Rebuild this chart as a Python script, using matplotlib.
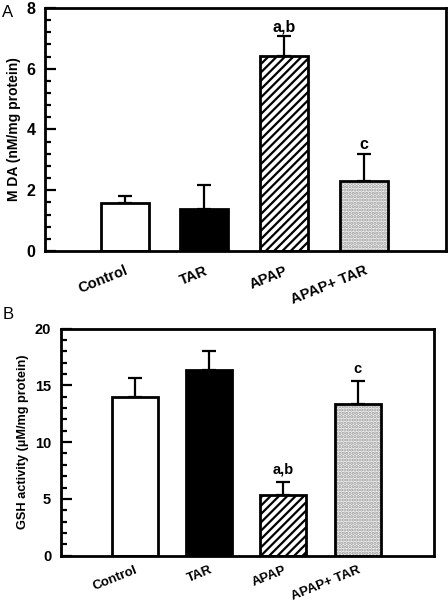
import numpy as np
import matplotlib.pyplot as plt
from matplotlib.ticker import MultipleLocator

plt.rcParams["font.family"] = ["Liberation Sans", "DejaVu Sans"]
plt.rcParams["hatch.linewidth"] = 1.6

groups = ["Control", "TAR", "APAP", "APAP+ TAR"]

# panel A: MDA
mda_mean = [1.58, 1.38, 6.42, 2.30]
mda_sem = [0.23, 0.79, 0.66, 0.89]
mda_marks = {2: "a,b", 3: "c"}

# panel B: GSH
gsh_mean = [13.97, 16.38, 5.31, 13.39]
gsh_sem = [1.70, 1.63, 1.20, 1.96]
gsh_marks = {2: "a,b", 3: "c"}

faces = ["white", "black", "white", "#f2f2f2"]
hatches = [None, None, "////", "....."]
hatch_cols = [None, None, "black", "#9a9a9a"]


def draw_panel(ax, means, sems, marks, width, ymax, major, minor, ylabel,
               tick_fs, lab_fs, ylab_fs, mark_off, xpad):
    x = np.arange(len(means))
    ax.errorbar(x, means, yerr=[np.zeros(len(sems)), sems], fmt="none",
                ecolor="black", elinewidth=1.6, capsize=5, capthick=1.6, zorder=1)
    for i in x:
        ax.bar(i, means[i], width, color=faces[i], edgecolor="none", zorder=2)
        if hatches[i]:
            ax.bar(i, means[i], width, color="none", edgecolor=hatch_cols[i],
                   hatch=hatches[i], linewidth=0, zorder=3)
        ax.bar(i, means[i], width, color="none", edgecolor="black",
               linewidth=2.0, zorder=4)
    for i, t in marks.items():
        ax.text(i, means[i] + sems[i] + mark_off, t, ha="center", va="center",
                fontsize=tick_fs, fontweight="bold")
    ax.set_xlim(-1.0, 4.03)
    ax.set_ylim(0, ymax)
    ax.yaxis.set_major_locator(MultipleLocator(major))
    ax.yaxis.set_minor_locator(MultipleLocator(minor))
    ax.tick_params(axis="y", which="major", direction="in", length=8, width=1.6,
                   labelsize=tick_fs, pad=7)
    ax.tick_params(axis="y", which="minor", direction="in", length=4, width=1.6)
    ax.set_xticks(x)
    ax.set_xticklabels(groups, rotation=22, ha="right", rotation_mode="anchor",
                       fontsize=lab_fs, fontweight="bold")
    ax.tick_params(axis="x", length=0, pad=xpad)
    for lab in ax.get_yticklabels():
        lab.set_fontweight("bold")
    for s in ax.spines.values():
        s.set_linewidth(2.0)
    ax.set_ylabel(ylabel, fontsize=ylab_fs, fontweight="bold")


fig = plt.figure(figsize=(4.48, 6.05), dpi=100)
ax1 = fig.add_axes([0.1004, 0.585, 0.895, 0.402])
ax2 = fig.add_axes([0.136, 0.0815, 0.8326, 0.3755])

draw_panel(ax1, mda_mean, mda_sem, mda_marks, 0.6, 8, 2, 0.4,
           "M DA (nM/mg protein)", 11.5, 10.5, 10, 0.3, 9)
draw_panel(ax2, gsh_mean, gsh_sem, gsh_marks, 0.62, 20, 5, 1,
           "GSH activity (\u00b5M/mg protein)", 10.5, 9.5, 9.2, 1.1, 6)

fig.text(0.005, 0.992, "A", fontsize=12, va="top")
fig.text(0.005, 0.492, "B", fontsize=12, va="top")

fig.savefig("out.png", dpi=100)
